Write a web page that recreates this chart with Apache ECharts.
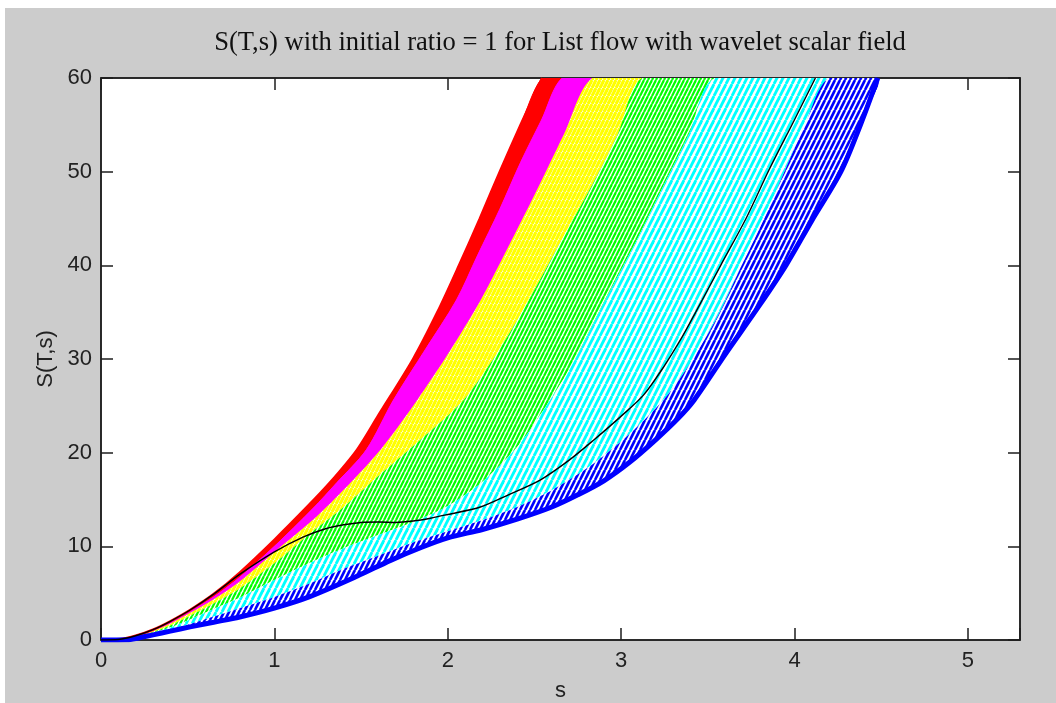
<!DOCTYPE html>
<html><head><meta charset="utf-8">
<script src="https://cdn.jsdelivr.net/npm/echarts@6/dist/echarts.min.js"></script>
<style>html,body{margin:0;padding:0;background:#fff}#c{width:1056px;height:703px}</style>
</head><body><div id="c"></div>
<script>
// ---- data: [s, S(T,s)] points ----
const titleText = 'S(T,s) with initial ratio = 1 for List flow with wavelet scalar field';
const xTicks = [0, 1, 2, 3, 4, 5];
const yTicks = [0, 10, 20, 30, 40, 50, 60];
// band boundaries, from the red (upper-left) edge to the blue (lower-right) edge
const redOuter = [[0,0],[0.1,0.05],[0.2,0.45],[0.3,1.1],[0.4,2.0],[0.514,3.2],[0.65,4.9],[0.8,7.2],[1.0,10.7],[1.188,14.2],[1.32,16.8],[1.476,20.3],[1.6,24.0],[1.8,30],[1.94,35],[2.065,40],[2.185,45],[2.30,50],[2.42,55],[2.544,60]];
const redMagenta = [[0,0],[0.1,0.04],[0.2,0.4],[0.3,1.0],[0.4,1.85],[0.514,3.05],[0.65,4.6],[0.8,6.7],[1.0,10.0],[1.22,14.0],[1.36,16.8],[1.53,20.3],[1.686,25.6],[1.87,31],[2.05,36.3],[2.17,41],[2.30,46],[2.42,51],[2.54,55.5],[2.66,60]];
const magentaYellow = [[0,0],[0.1,0.03],[0.2,0.35],[0.3,0.95],[0.4,1.75],[0.514,2.9],[0.65,4.35],[0.8,6.25],[1.0,9.4],[1.25,13.3],[1.45,17.0],[1.62,20.5],[1.823,25.6],[2.0,30.5],[2.19,36.3],[2.35,42],[2.5,47.5],[2.67,54],[2.833,60]];
const yellowGreen = [[0,0],[0.1,0.02],[0.2,0.3],[0.3,0.85],[0.4,1.55],[0.514,2.6],[0.65,3.9],[0.8,5.5],[1.0,8.2],[1.2,11.3],[1.4,14.2],[1.6,17.5],[1.85,21.5],[2.09,25.6],[2.28,30.5],[2.458,36],[2.65,42.5],[2.83,48.5],[2.98,54],[3.12,60]];
const greenCyan = [[0,0],[0.1,0.02],[0.2,0.25],[0.3,0.75],[0.4,1.35],[0.514,2.2],[0.65,3.3],[0.8,4.5],[1.0,6.4],[1.2,8.2],[1.4,9.8],[1.6,11.2],[1.8,12.6],[2.0,14.3],[2.2,16.9],[2.4,20.6],[2.55,24.5],[2.72,29.5],[2.90,36],[3.07,42],[3.23,48],[3.39,54],[3.54,60]];
const cyanBlue = [[0,0],[0.1,0.01],[0.2,0.2],[0.3,0.65],[0.4,1.1],[0.514,1.7],[0.65,2.5],[0.8,3.4],[1.0,4.6],[1.2,6.0],[1.4,7.6],[1.6,9.0],[1.8,10.4],[2.0,11.6],[2.2,12.8],[2.4,14.2],[2.6,16.0],[2.8,18.3],[3.0,21.2],[3.15,23.8],[3.27,26.2],[3.4,29.6],[3.555,34.5],[3.67,39],[3.8,44],[3.93,49.5],[4.06,55],[4.197,60]];
const blueOuter = [[0,0],[0.15,0.02],[0.2,0.15],[0.3,0.55],[0.4,0.95],[0.514,1.4],[0.65,1.9],[0.8,2.45],[1.0,3.4],[1.2,4.6],[1.476,6.8],[1.67,8.5],[1.85,9.9],[2.0,10.9],[2.2,11.8],[2.4,12.9],[2.6,14.2],[2.75,15.5],[2.9,17.0],[3.05,19.0],[3.2,21.4],[3.33,23.7],[3.42,25.6],[3.6,30.5],[3.8,35.8],[3.95,40],[4.1,44.8],[4.267,50],[4.38,55],[4.48,60]];
const blackCurve = [[0,0],[0.1,0.05],[0.2,0.45],[0.3,1.1],[0.4,2.0],[0.514,3.2],[0.65,4.9],[0.8,7.0],[1.0,9.4],[1.168,11.0],[1.3,11.9],[1.4,12.3],[1.5,12.55],[1.6,12.6],[1.7,12.55],[1.8,12.7],[1.9,13.0],[2.0,13.4],[2.188,14.2],[2.35,15.5],[2.535,17.1],[2.7,19.2],[2.842,21.35],[3.0,23.9],[3.131,26.2],[3.25,29.3],[3.35,32.3],[3.43,35.0],[3.574,40],[3.72,45],[3.853,50.2],[3.99,55.2],[4.12,60]];
const bandNames = ['red', 'magenta', 'yellow', 'green', 'cyan', 'blue'];
const bandColors = ['#ff0000', '#ff00ff', '#ffff00', '#00ff00', '#00ffff', '#0000ff'];

const boundaries = [redOuter, redMagenta, magentaYellow, yellowGreen, greenCyan, cyanBlue, blueOuter];

// line-texture (styling only): many thin curves with white gaps
function stripes(color, period, lineW) {
  const c = document.createElement('canvas');
  c.width = period; c.height = period * 2;
  const g = c.getContext('2d');
  g.fillStyle = '#ffffff'; g.fillRect(0, 0, c.width, c.height);
  g.strokeStyle = color; g.lineWidth = lineW;
  for (let k = -1; k <= 1; k++) {
    g.beginPath(); g.moveTo(k * period, period * 2); g.lineTo((k + 1) * period, 0); g.stroke();
  }
  return {image: c, repeat: 'repeat'};
}
const bandFills = [
  '#ff0000',
  '#ff00ff',
  stripes('#ffff00', 4, 3.2),
  stripes('#00ff00', 4, 2.2),
  stripes('#00ffff', 6, 2.8),
  stripes('#0000ff', 5, 2.6)
];

const chart = echarts.init(document.getElementById('c'), null, {renderer: 'canvas'});
const axisFont = "'Liberation Sans', Arial, sans-serif";
const axisColor = '#1e1e1e';

const bandSeries = bandColors.map((col, i) => ({
  type: 'custom', name: bandNames[i], silent: true, clip: true, z: 2,
  xAxisIndex: 0, yAxisIndex: 0,
  data: [[0, 0]],
  renderItem: (params, api) => {
    const upper = boundaries[i].map(p => api.coord(p));
    const lower = boundaries[i + 1].slice().reverse().map(p => api.coord(p));
    return {type: 'polygon', shape: {points: upper.concat(lower), smooth: 0.3},
            style: {fill: bandFills[i], stroke: i < 2 ? col : null, lineWidth: 1}};
  }
}));

const edgeSeries = [
  {type: 'line', data: redOuter, showSymbol: false, silent: true, smooth: 0.3, z: 3, lineStyle: {color: '#ff0000', width: 2.5}},
  {type: 'line', data: blueOuter, showSymbol: false, silent: true, smooth: 0.3, z: 3, lineStyle: {color: '#0000ff', width: 5}},
  {type: 'line', data: blackCurve, showSymbol: false, silent: true, smooth: 0.3, z: 4, lineStyle: {color: '#000000', width: 1.4}}
];

function axisCommon() {
  return {
    axisLine: {show: true, onZero: false, lineStyle: {color: axisColor, width: 1.5}},
    axisTick: {inside: true, length: 12, lineStyle: {color: axisColor, width: 1.5}},
    splitLine: {show: false}
  };
}

chart.setOption({
  backgroundColor: '#cccccc',
  animation: false,
  title: {
    text: titleText, left: 555, textAlign: 'center', top: 25,
    textStyle: {fontFamily: "'Liberation Serif', 'Times New Roman', serif", fontWeight: 'normal', fontSize: 26.6, color: '#111'}
  },
  graphic: [
    {type: 'rect', shape: {x: 0, y: 0, width: 1056, height: 8}, style: {fill: '#ffffff'}, silent: true},
    {type: 'rect', shape: {x: 0, y: 0, width: 5, height: 703}, style: {fill: '#ffffff'}, silent: true}
  ],
  grid: {left: 101, top: 78, right: 36, bottom: 63, outerBoundsMode: 'none', containLabel: false,
         show: true, backgroundColor: '#ffffff', borderColor: axisColor, borderWidth: 1.5},
  xAxis: [
    Object.assign(axisCommon(), {type: 'value', min: 0, max: 5.3, interval: 1, position: 'bottom',
     name: 's', nameLocation: 'middle', nameGap: 40,
     nameTextStyle: {fontFamily: axisFont, fontSize: 22, color: '#222'},
     axisLabel: {margin: 10, fontFamily: axisFont, fontSize: 22, color: '#222',
       formatter: v => (xTicks.indexOf(v) >= 0 ? String(v) : '')}}),
    Object.assign(axisCommon(), {type: 'value', min: 0, max: 5.3, interval: 1, position: 'top',
     axisLabel: {show: false}})
  ],
  yAxis: [
    Object.assign(axisCommon(), {type: 'value', min: 0, max: 60, interval: 10, position: 'left',
     name: 'S(T,s)', nameLocation: 'middle', nameGap: 44, nameRotate: 90,
     nameTextStyle: {fontFamily: axisFont, fontSize: 22, color: '#222'},
     axisLabel: {margin: 9, fontFamily: axisFont, fontSize: 22, color: '#222',
       formatter: v => (yTicks.indexOf(v) >= 0 ? String(v) : '')}}),
    Object.assign(axisCommon(), {type: 'value', min: 0, max: 60, interval: 10, position: 'right',
     axisLabel: {show: false}})
  ],
  series: bandSeries.concat(edgeSeries)
});
</script></body></html>
